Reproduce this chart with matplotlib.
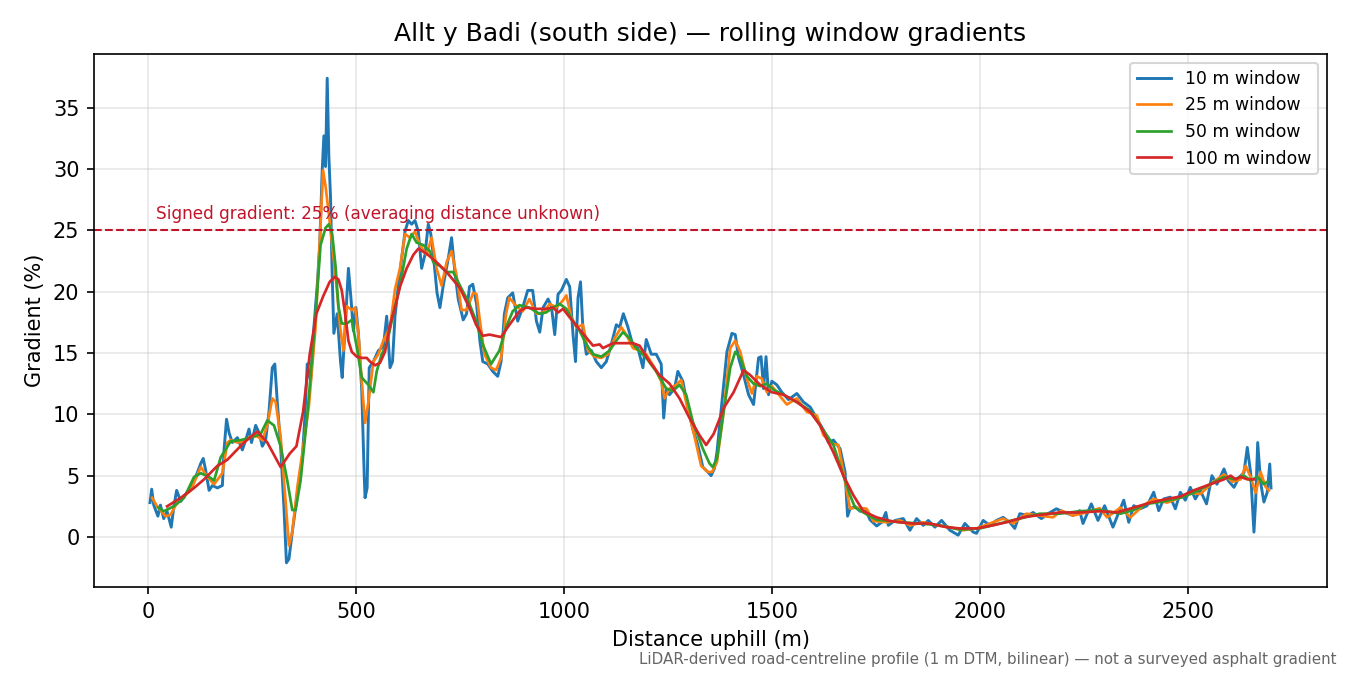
import matplotlib
matplotlib.use("Agg")
import matplotlib.pyplot as plt

# ---- data ----
d10 = [5, 9, 14, 24, 30, 38, 46, 56, 62, 69, 79, 91, 103, 115, 127, 133, 139, 147, 155, 167, 179, 183, 189, 195,
       203, 215, 227, 235, 243, 249, 259, 267, 275, 283, 291, 299, 305, 311, 319, 327, 333, 339, 347, 355, 363,
       371, 377, 383, 391, 399, 407, 413, 419, 423, 427, 431, 435, 439, 443, 447, 455, 463, 467, 474, 482, 488,
       494, 500, 506, 514, 520, 522, 527, 532, 542, 554, 566, 574, 582, 588, 594, 602, 610, 618, 626, 634, 642,
       650, 658, 666, 674, 680, 687, 695, 702, 710, 722, 730, 738, 746, 758, 766, 773, 781, 790, 798, 805, 817,
       829, 841, 849, 857, 865, 877, 889, 901, 913, 925, 934, 942, 950, 962, 970, 978, 986, 994, 1006, 1014, 1022,
       1028, 1034, 1040, 1046, 1054, 1066, 1078, 1090, 1102, 1114, 1126, 1134, 1143, 1154, 1166, 1178, 1190,
       1198, 1210, 1222, 1234, 1240, 1246, 1254, 1266, 1274, 1286, 1298, 1310, 1322, 1334, 1346, 1354, 1362,
       1368, 1380, 1392, 1404, 1412, 1420, 1432, 1444, 1456, 1468, 1474, 1480, 1486, 1492, 1500, 1512, 1524,
       1540, 1560, 1576, 1592, 1604, 1624, 1636, 1648, 1664, 1676, 1682, 1688, 1700, 1712, 1724, 1736, 1752,
       1764, 1774, 1780, 1796, 1816, 1832, 1848, 1864, 1876, 1892, 1908, 1928, 1948, 1964, 1984, 1992, 2008,
       2024, 2040, 2056, 2072, 2084, 2096, 2116, 2128, 2148, 2164, 2184, 2204, 2224, 2240, 2248, 2268, 2284,
       2300, 2320, 2334, 2346, 2358, 2370, 2386, 2402, 2418, 2430, 2442, 2458, 2470, 2482, 2494, 2506, 2518,
       2530, 2545, 2558, 2570, 2587, 2597, 2611, 2623, 2635, 2643, 2651, 2659, 2663, 2668, 2675, 2683, 2691,
       2697, 2700]
g10 = [2.8, 3.9, 2.6, 1.7, 2.6, 1.5, 2.1, 0.8, 2.4, 3.8, 2.9, 3.5, 4.0, 4.9, 6.0, 6.4, 5.4, 3.8, 4.2, 4.0, 4.2, 7.1,
       9.6, 8.5, 7.7, 8.1, 7.1, 7.9, 8.8, 7.7, 9.1, 8.5, 7.4, 7.9, 10.2, 13.8, 14.1, 11.0, 7.4, 2.4, -2.1, -1.8,
       0.4, 2.4, 4.6, 6.3, 9.6, 14.1, 12.7, 17.1, 20.5, 23.8, 29.9, 32.7, 30.2, 37.4, 31.0, 27.7, 21.3, 16.6,
       18.2, 14.3, 13.0, 17.0, 21.9, 19.5, 16.8, 18.7, 16.6, 12.0, 5.0, 3.2, 4.0, 13.8, 14.3, 15.2, 15.5, 18.0,
       13.8, 14.3, 18.0, 20.5, 22.7, 24.9, 25.8, 25.5, 25.8, 24.9, 21.9, 23.0, 25.5, 24.7, 22.7, 19.9, 18.7,
       20.5, 22.7, 24.4, 21.6, 19.4, 17.7, 18.2, 20.4, 20.6, 19.0, 16.0, 14.3, 14.1, 13.5, 13.1, 14.3, 18.2,
       19.5, 19.9, 17.6, 18.7, 20.1, 20.1, 17.6, 16.7, 18.7, 19.4, 18.8, 16.5, 19.8, 20.1, 21.0, 20.4, 16.5,
       14.3, 19.5, 20.8, 16.8, 14.9, 15.2, 14.3, 13.8, 14.3, 15.7, 17.3, 17.1, 18.2, 17.1, 15.6, 15.4, 13.8,
       16.1, 14.9, 14.9, 14.1, 9.7, 12.1, 11.6, 12.1, 13.5, 12.7, 10.5, 8.8, 7.5, 5.7, 5.3, 5.0, 5.6,
       6.9, 11.0, 15.1, 16.6, 16.5, 14.6, 13.2, 11.6, 10.8, 14.6, 14.7, 12.1, 14.7, 11.6, 12.7, 12.4, 11.8,
       11.2, 11.7, 11.0, 10.6, 9.9, 8.7, 7.7, 7.9, 7.2, 5.3, 1.7, 2.3, 2.5, 2.1, 2.3, 1.4, 0.9,
       1.2, 2.0, 0.95, 1.35, 1.5, 0.55, 1.5, 0.95, 1.35, 0.8, 1.35, 0.55, 0.15, 1.1, 0.4, 0.3, 1.35,
       0.95, 1.35, 1.6, 1.2, 0.7, 1.9, 1.75, 2.0, 1.5, 1.9, 2.3, 2.0, 1.75, 2.15, 1.1, 2.7, 1.35,
       2.55, 0.8, 2.0, 3.0, 1.2, 2.55, 2.3, 2.55, 3.65, 2.15, 3.1, 3.25, 2.3, 3.65, 3.0, 4.05, 3.1,
       3.8, 2.7, 5.0, 4.3, 5.55, 4.6, 4.05, 4.85, 5.25, 7.3, 5.25, 0.4, 2.85, 7.7, 4.45, 2.85, 3.65,
       5.95, 4.0]

d25 = [10, 22, 42, 54, 67, 83, 103, 127, 143, 159, 179, 191, 199, 215, 231, 247, 263, 275, 287, 299, 307, 319, 327,
       339, 347, 359, 371, 387, 403, 415, 421, 427, 435, 443, 455, 462, 470, 478, 490, 498, 506, 514, 522, 530,
       542, 554, 566, 582, 594, 606, 618, 630, 642, 654, 670, 682, 694, 706, 718, 730, 742, 754, 766, 782, 790,
       797, 809, 825, 837, 849, 861, 869, 881, 901, 917, 934, 950, 966, 982, 998, 1006, 1018, 1030, 1046, 1058,
       1074, 1090, 1106, 1122, 1138, 1150, 1166, 1182, 1198, 1218, 1234, 1242, 1254, 1270, 1282, 1294, 1310,
       1330, 1346, 1356, 1368, 1384, 1400, 1412, 1424, 1440, 1452, 1464, 1476, 1488, 1500, 1512, 1536, 1560,
       1584, 1608, 1624, 1644, 1660, 1676, 1688, 1700, 1728, 1744, 1776, 1808, 1832, 1864, 1896, 1928, 1960,
       1992, 2024, 2056, 2080, 2112, 2144, 2176, 2196, 2224, 2256, 2288, 2306, 2338, 2362, 2394, 2418, 2450,
       2482, 2506, 2530, 2562, 2587, 2607, 2627, 2639, 2651, 2663, 2675, 2687, 2695]
g25 = [3.2, 2.5, 1.7, 1.8, 2.6, 3.2, 3.8, 5.7, 4.9, 4.3, 5.2, 7.7, 7.9, 7.7, 7.8, 8.2, 8.2, 7.9, 9.1, 11.3, 11.0,
       8.2, 4.6, -0.7, 0.4, 4.0, 6.8, 10.7, 17.1, 25.5, 29.9, 28.6, 26.3, 23.8, 19.9, 17.1, 15.2, 18.8, 18.5,
       18.7, 16.6, 12.7, 9.3, 11.0, 14.3, 14.9, 16.0, 17.1, 20.2, 21.9, 24.7, 24.4, 24.9, 23.8, 23.0, 24.4, 21.9,
       20.5, 22.4, 23.3, 21.3, 18.5, 18.5, 19.9, 19.8, 17.9, 14.9, 13.8, 13.6, 14.6, 18.2, 19.5, 19.0, 18.4,
       19.4, 18.2, 18.3, 19.0, 18.7, 19.3, 19.7, 17.9, 17.1, 17.3, 15.2, 14.7, 14.6, 14.9, 16.2, 17.1, 16.5,
       15.4, 15.2, 14.9, 13.8, 12.7, 11.3, 12.1, 12.4, 12.8, 11.0, 8.8, 5.8, 5.3, 5.3, 6.1, 10.2, 15.4, 16.0,
       15.1, 12.9, 11.7, 13.1, 12.9, 11.8, 12.3, 11.8, 10.8, 11.3, 10.2, 9.9, 8.3, 7.6, 7.5, 4.5, 2.3, 2.4,
       2.3, 1.3, 1.2, 1.35, 0.95, 1.2, 0.95, 0.8, 0.55, 0.7, 1.1, 1.5, 1.1, 1.9, 1.75, 1.6, 2.15, 1.75, 2.0,
       2.35, 1.6, 2.4, 1.6, 2.6, 3.1, 2.8, 3.2, 3.6, 3.5, 4.5, 5.1, 4.5, 4.7, 5.8, 4.9, 3.6, 5.3, 4.1, 3.8]

d50 = [25, 38, 62, 87, 111, 127, 147, 159, 175, 199, 223, 247, 271, 287, 303, 319, 335, 347, 355, 367, 383, 399,
       415, 427, 435, 443, 451, 458, 466, 478, 490, 502, 514, 530, 542, 550, 562, 574, 590, 606, 622, 634, 646,
       662, 678, 686, 702, 718, 734, 750, 773, 789, 805, 825, 845, 861, 877, 893, 917, 941, 957, 974, 990, 1006,
       1022, 1038, 1054, 1070, 1090, 1110, 1126, 1142, 1158, 1174, 1198, 1222, 1246, 1262, 1278, 1294, 1310,
       1334, 1350, 1358, 1368, 1384, 1400, 1412, 1424, 1440, 1456, 1472, 1488, 1504, 1528, 1560, 1592, 1616,
       1648, 1672, 1688, 1700, 1720, 1752, 1785, 1808, 1856, 1904, 1952, 2000, 2048, 2096, 2144, 2192, 2240,
       2288, 2338, 2370, 2402, 2442, 2482, 2514, 2554, 2587, 2611, 2635, 2651, 2667, 2683, 2691]
g50 = [2.4, 2.1, 2.5, 3.2, 4.9, 5.2, 4.9, 4.6, 6.5, 7.8, 7.9, 8.1, 8.4, 9.5, 9.1, 7.4, 4.6, 2.2, 2.2, 4.6, 9.9,
       16.3, 23.8, 25.2, 25.5, 24.7, 22.1, 18.8, 17.4, 17.4, 17.7, 15.5, 13.0, 12.4, 11.8, 13.5, 14.9, 15.7,
       18.2, 20.5, 23.5, 24.7, 24.0, 23.8, 23.3, 22.4, 22.1, 21.6, 21.6, 20.5, 19.0, 17.6, 15.7, 14.1, 15.2,
       17.1, 18.4, 18.9, 18.7, 18.2, 18.3, 18.7, 19.0, 18.6, 17.6, 16.8, 15.7, 14.9, 14.7, 15.2, 16.0, 16.7,
       16.2, 15.4, 14.6, 13.5, 12.1, 11.9, 12.4, 11.6, 9.4, 7.2, 6.0, 5.7, 6.4, 10.2, 13.8, 15.1, 14.6, 13.1,
       12.5, 12.3, 12.5, 12.0, 11.6, 11.0, 10.3, 9.1, 7.5, 5.0, 3.4, 2.4, 2.0, 1.4, 1.3, 1.2, 1.1, 0.95, 0.6,
       0.7, 1.1, 1.5, 1.9, 1.9, 2.1, 2.2, 1.9, 2.2, 2.7, 2.9, 3.2, 3.6, 4.3, 4.9, 4.7, 5.0, 4.6, 4.9, 4.3, 4.5]

d100 = [46, 79, 111, 135, 167, 191, 231, 263, 287, 319, 341, 357, 373, 389, 405, 421, 437, 449, 458, 466, 474, 482,
        490, 502, 514, 526, 534, 546, 558, 570, 582, 594, 606, 622, 638, 650, 670, 694, 718, 750, 774, 789, 805,
        821, 849, 869, 893, 909, 934, 958, 974, 986, 998, 1014, 1038, 1070, 1086, 1094, 1118, 1150, 1166, 1182,
        1206, 1230, 1254, 1278, 1302, 1326, 1342, 1360, 1374, 1384, 1408, 1432, 1448, 1472, 1500, 1528, 1560,
        1592, 1616, 1648, 1672, 1696, 1720, 1752, 1785, 1808, 1840, 1880, 1920, 1952, 1992, 2024, 2064, 2104,
        2144, 2192, 2240, 2290, 2330, 2370, 2410, 2450, 2482, 2514, 2554, 2587, 2603, 2615, 2627, 2643, 2659]
g100 = [2.5, 3.2, 4.0, 4.7, 5.8, 6.3, 7.7, 8.6, 7.7, 5.7, 6.8, 7.4, 10.2, 14.9, 18.2, 19.6, 20.8, 21.2, 21.0, 20.1,
        18.2, 16.0, 15.1, 14.7, 14.6, 14.6, 14.3, 14.0, 14.2, 15.1, 17.3, 18.7, 20.4, 21.9, 23.0, 23.5, 23.1,
        22.4, 21.6, 20.3, 18.6, 17.3, 16.4, 16.5, 16.3, 17.3, 18.4, 18.7, 18.6, 18.6, 18.7, 18.3, 18.6, 17.9,
        16.9, 15.6, 15.7, 15.4, 15.8, 15.8, 15.8, 15.6, 14.3, 13.2, 12.5, 11.3, 9.7, 8.3, 7.5, 8.4, 9.6, 10.5,
        11.8, 13.6, 13.2, 12.4, 11.8, 11.6, 11.0, 10.2, 9.1, 6.9, 5.0, 3.4, 2.1, 1.6, 1.3, 1.2, 1.1, 1.1, 0.8,
        0.7, 0.7, 0.9, 1.2, 1.6, 1.8, 2.0, 2.0, 2.1, 2.0, 2.4, 2.8, 3.1, 3.3, 3.8, 4.3, 4.7, 5.0, 4.7, 4.9, 4.7,
        4.7]

labels = ["10 m window", "25 m window", "50 m window", "100 m window"]
signed_gradient = 25

# ---- figure ----
fig, ax = plt.subplots(figsize=(9, 4.5), dpi=150)
fig.subplots_adjust(left=0.0696, right=0.983, top=0.92, bottom=0.1304)

ax.plot(d10, g10, color="#1f77b4", lw=1.4, label=labels[0])
ax.plot(d25, g25, color="#ff7f0e", lw=1.3, label=labels[1])
ax.plot(d50, g50, color="#2ca02c", lw=1.3, label=labels[2])
ax.plot(d100, g100, color="#d62728", lw=1.3, label=labels[3])

ax.axhline(signed_gradient, color="#c0142a", ls="--", lw=1.0)
ax.text(20, signed_gradient + 0.6, "Signed gradient: 25% (averaging distance unknown)",
        color="#c0142a", fontsize=8.1, va="bottom", ha="left")

ax.set_title("Allt y Badi (south side) — rolling window gradients", fontsize=12)
ax.set_xlabel("Distance uphill (m)", fontsize=10)
ax.set_ylabel("Gradient (%)", fontsize=10)
ax.grid(True, alpha=0.3)
ax.legend(loc="upper right", fontsize=8.3)

fig.text(0.99, 0.012, "LiDAR-derived road-centreline profile (1 m DTM, bilinear) — not a surveyed asphalt gradient",
         ha="right", va="bottom", fontsize=7.25, color="#666666")

fig.savefig("out.png", dpi=150)
